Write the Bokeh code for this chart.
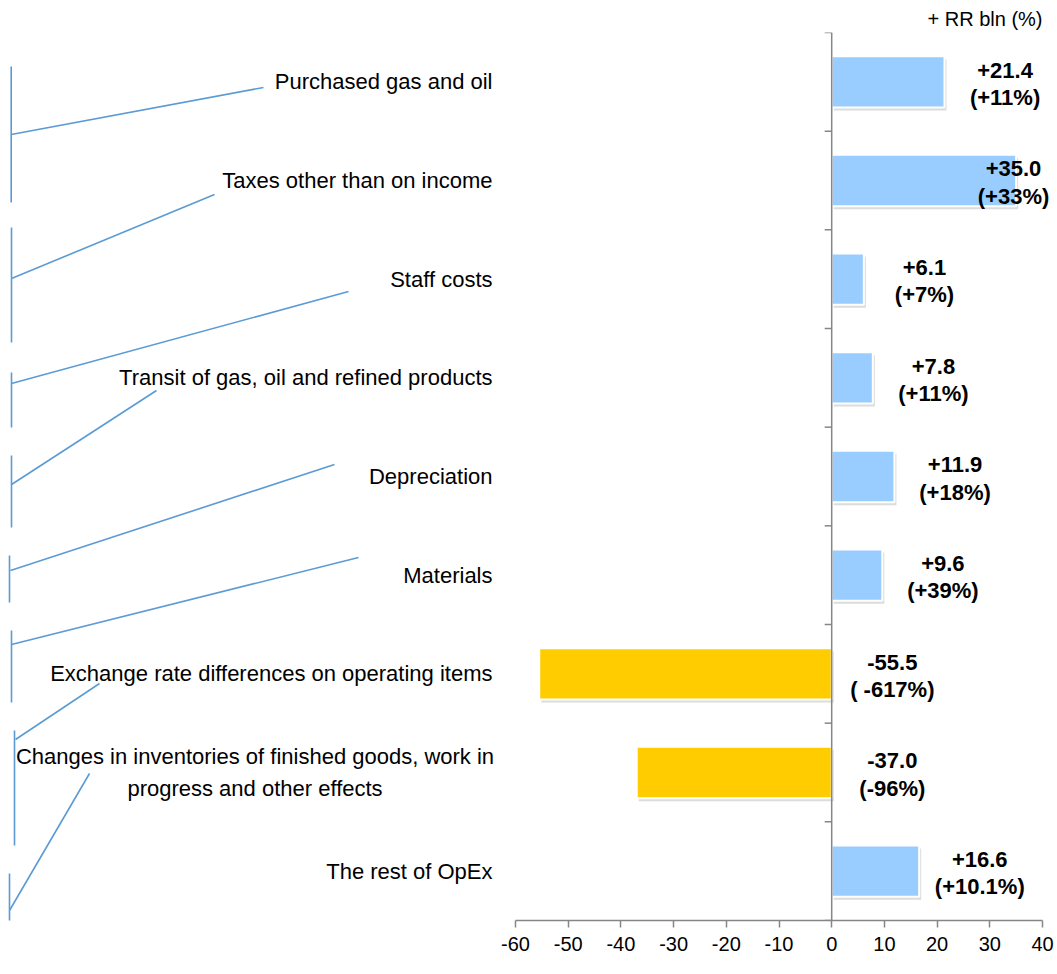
from bokeh.plotting import figure
from bokeh.models import Range1d, FixedTicker, Span, ColumnDataSource
from bokeh.core.properties import value
from bokeh.embed import file_html
from bokeh.resources import INLINE

# ---------------- data ----------------
categories = [
    "Purchased gas and oil",
    "Taxes other than on income",
    "Staff costs",
    "Transit of gas, oil and refined products",
    "Depreciation",
    "Materials",
    "Exchange rate differences on operating items",
    "Changes in inventories of finished goods, work in\nprogress and other effects",
    "The rest of OpEx",
]
changes = [21.4, 35.0, 6.1, 7.8, 11.9, 9.6, -55.5, -37.0, 16.6]
pct_labels = ["(+11%)", "(+33%)", "(+7%)", "(+11%)", "(+18%)", "(+39%)",
              "( -617%)", "(-96%)", "(+10.1%)"]
x_ticks = [-60, -50, -40, -30, -20, -10, 0, 10, 20, 30, 40]
unit_title = "+ RR bln (%)"

# ---------------- layout / style ----------------
W, H = 1057, 974
FRAME_TOP, FRAME_BOTTOM = 32, 920
AXIS_LEFT_PX, AXIS_RIGHT_PX = 515, 1042
PPU = (AXIS_RIGHT_PX - AXIS_LEFT_PX) / (x_ticks[-1] - x_ticks[0])
X0 = x_ticks[0] - AXIS_LEFT_PX / PPU
X1 = x_ticks[-1] + (W - AXIS_RIGHT_PX) / PPU
N = len(categories)
BAND = (FRAME_BOTTOM - FRAME_TOP) / N

FONT = "'Liberation Sans', Arial, sans-serif"
POS_COLOR = "#99CCFF"
NEG_COLOR = "#FFCC00"
AXIS_COLOR = "#868686"
LEADER_COLOR = "#5B9BD5"


def px_x(px):
    return (px - AXIS_LEFT_PX) / PPU + x_ticks[0]


def px_y(py):
    return (py - FRAME_TOP) / BAND


p = figure(width=W, height=H, output_backend="svg", toolbar_location=None, tools="",
           x_range=Range1d(X0, X1), y_range=Range1d(N, 0),
           min_border_left=0, min_border_right=0,
           min_border_top=FRAME_TOP, min_border_bottom=H - FRAME_BOTTOM,
           y_axis_location=None, outline_line_color=None,
           background_fill_color="white", border_fill_color="white")
p.xgrid.visible = False
p.ygrid.visible = False

p.title.text = unit_title
p.title.align = "right"
p.title.offset = W - AXIS_RIGHT_PX
p.title.text_font = FONT
p.title.text_font_size = "20px"
p.title.text_font_style = "normal"
p.title.text_color = "#000000"
p.title.standoff = 6

ax = p.xaxis[0]
ax.ticker = FixedTicker(ticks=x_ticks)
ax.major_label_overrides = {t: str(t) for t in x_ticks}
ax.bounds = (x_ticks[0], x_ticks[-1])
ax.axis_line_color = AXIS_COLOR
ax.axis_line_width = 1.5
ax.major_tick_line_color = AXIS_COLOR
ax.major_tick_line_width = 1.5
ax.major_tick_in = 0
ax.major_tick_out = 7
ax.minor_tick_line_color = None
ax.major_label_text_font = FONT
ax.major_label_text_font_size = "20px"
ax.major_label_text_color = "#000000"
ax.major_label_standoff = 9

# ---------------- leader lines (decoration) ----------------
brackets = [(10.7, 66, 202), (11, 227, 342), (11, 372, 427), (11, 455, 527),
            (9, 555, 602), (11, 630, 702), (14, 730, 845), (9, 873, 957)]
slants = [(10.7, 134, 263, 87), (11, 278, 214, 194), (11, 383, 348, 291),
          (11, 484, 156, 390), (10, 570, 334, 464), (11, 644, 358, 557),
          (15, 739, 99, 683), (9, 910, 89, 773)]
seg = dict(x0=[], y0=[], x1=[], y1=[])
for bx, by0, by1 in brackets:
    seg["x0"].append(px_x(bx)); seg["x1"].append(px_x(bx))
    seg["y0"].append(px_y(by0)); seg["y1"].append(px_y(by1))
for ax0, ay0, ax1, ay1 in slants:
    seg["x0"].append(px_x(ax0)); seg["x1"].append(px_x(ax1))
    seg["y0"].append(px_y(ay0)); seg["y1"].append(px_y(ay1))
p.segment(x0="x0", y0="y0", x1="x1", y1="y1", source=ColumnDataSource(seg),
          line_color=LEADER_COLOR, line_width=1.6)

# ---------------- bars ----------------
ys = [i + 0.5 for i in range(N)]
colors = [POS_COLOR if v >= 0 else NEG_COLOR for v in changes]
SHX, SHY = 2 / PPU, 3 / BAND
src = ColumnDataSource(dict(y=ys, v=changes, c=colors,
                            ys=[y + SHY for y in ys],
                            vs=[v + SHX for v in changes]))
# soft shadow
p.hbar(y="ys", left=SHX, right="vs", height=0.52,
       source=src, fill_color="#9A9A9A", fill_alpha=0.35, line_color=None)
p.hbar(y="y", left=0, right="v", height=0.52, source=src,
       fill_color="c", line_color="white", line_width=2)

# zero axis with ticks between categories
p.add_layout(Span(location=0, dimension="height", line_color=AXIS_COLOR, line_width=1.5))
bounds_y = list(range(N + 1))
p.segment(x0=[-7 / PPU] * len(bounds_y), x1=[0] * len(bounds_y), y0=bounds_y, y1=bounds_y,
          line_color=AXIS_COLOR, line_width=1.5)

# ---------------- value labels ----------------
LABEL_GAP = 11.5
LABEL_MAX = 34.5
lab_x = [min(max(v, 0) + LABEL_GAP, LABEL_MAX) for v in changes]
lab_y = [y + 2 / BAND for y in ys]
lab_t = [f"{v:+.1f}\n{pc}" for v, pc in zip(changes, pct_labels)]
p.text(x=lab_x, y=lab_y, text=lab_t, text_font=value(FONT), text_font_size="22px",
       text_font_style="bold", text_align="center", text_baseline="middle",
       text_line_height=1.1, text_color="#000000")

# ---------------- category labels ----------------
LABEL_RIGHT = px_x(492)
single = [(c, y) for c, y in zip(categories, ys) if "\n" not in c]
multi = [(c, y) for c, y in zip(categories, ys) if "\n" in c]
p.text(x=[LABEL_RIGHT] * len(single), y=[y for _, y in single], text=[c for c, _ in single],
       text_font=value(FONT), text_font_size="22px", text_align="right",
       text_baseline="middle", text_color="#000000")
MULTI_CENTER = px_x(254.5)
p.text(x=[MULTI_CENTER] * len(multi), y=[y for _, y in multi], text=[c for c, _ in multi],
       text_font=value(FONT), text_font_size="22px", text_align="center",
       text_baseline="middle", text_line_height=1.25, text_color="#000000")

open("out.html", "w").write(file_html(p, INLINE))
